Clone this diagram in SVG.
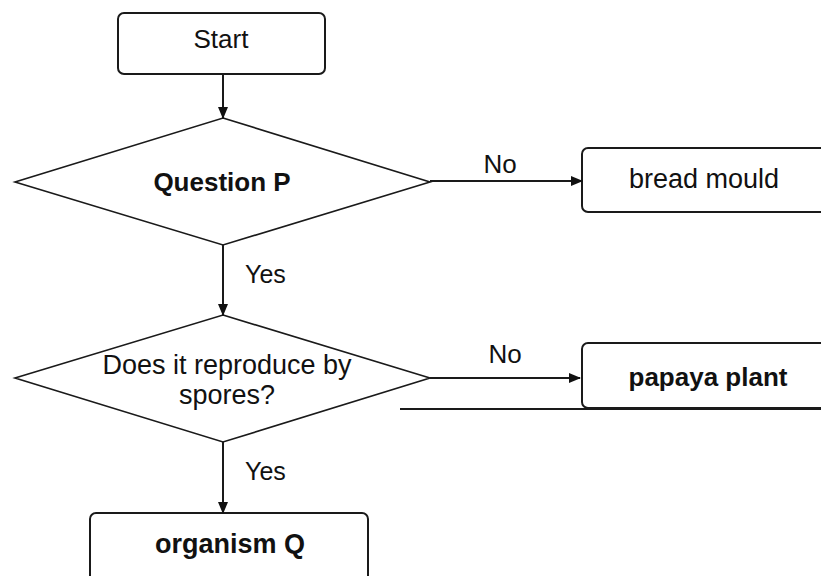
<svg xmlns="http://www.w3.org/2000/svg" width="821" height="576" viewBox="0 0 821 576">
<defs>
<style>
.box{fill:#fff;stroke:#1a1a1a;stroke-width:2}
.dia{fill:#fff;stroke:#1a1a1a;stroke-width:1.6}
.con{fill:none;stroke:#1a1a1a;stroke-width:2}
text{font-family:"Liberation Sans",Arial,sans-serif;fill:#111;text-anchor:middle}
.b{font-weight:bold}
.lbl{text-anchor:start}
</style>
<marker id="ah" markerWidth="12" markerHeight="10" refX="11" refY="5" orient="auto" markerUnits="userSpaceOnUse">
<path d="M0,0 L12,5 L0,10 Z" fill="#111"/>
</marker>
</defs>
<rect width="821" height="576" fill="#fff"/>
<g id="start">
<rect class="box" x="118" y="13" width="207" height="61" rx="6"/>
<text x="221" y="48" font-size="26">Start</text>
</g>
<g id="questionP">
<polygon class="dia" points="223,118 430,182 223,245 15,182"/>
<text class="b" x="222" y="191" font-size="26">Question P</text>
</g>
<g id="breadMould">
<rect class="box" x="582" y="148" width="260" height="64" rx="6"/>
<text x="704" y="188" font-size="27">bread mould</text>
</g>
<g id="spores">
<polygon class="dia" points="223,315 430,378 223,442 15,378"/>
<text x="227" y="374" font-size="27">Does it reproduce by</text>
<text x="227" y="404" font-size="27">spores?</text>
</g>
<g id="papaya">
<rect class="box" x="582" y="343" width="260" height="65" rx="6"/>
<text class="b" x="708" y="386" font-size="26">papaya plant</text>
</g>
<g id="organismQ">
<rect class="box" x="90" y="513" width="278" height="80" rx="6"/>
<text class="b" x="230" y="553" font-size="27">organism Q</text>
</g>
<g id="connectors">
<line class="con" x1="223" y1="74" x2="223" y2="118" marker-end="url(#ah)"/>
<line class="con" x1="223" y1="245" x2="223" y2="315" marker-end="url(#ah)"/>
<line class="con" x1="223" y1="442" x2="223" y2="513" marker-end="url(#ah)"/>
<line class="con" x1="430" y1="181" x2="582" y2="181" marker-end="url(#ah)"/>
<line class="con" x1="430" y1="378" x2="580" y2="378" marker-end="url(#ah)"/>
<text x="500" y="173" font-size="26">No</text>
<text x="505" y="363" font-size="26">No</text>
<text class="lbl" x="245" y="283" font-size="25">Yes</text>
<text class="lbl" x="245" y="480" font-size="25">Yes</text>
</g>
<line x1="400" y1="409" x2="821" y2="409" stroke="#1a1a1a" stroke-width="2"/>
</svg>
